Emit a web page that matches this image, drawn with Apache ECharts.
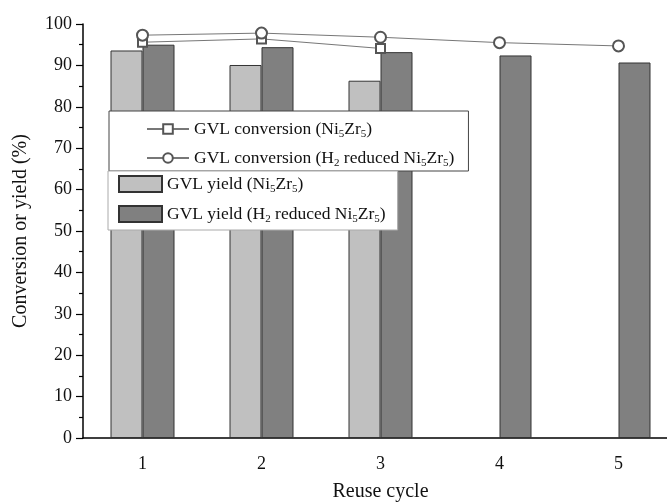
<!DOCTYPE html>
<html>
<head>
<meta charset="utf-8">
<script src="https://cdn.jsdelivr.net/npm/echarts@6/dist/echarts.min.js"></script>
<style>
    html, body { margin: 0; padding: 0; background: #fff; }
    #chart { width: 667px; height: 502px; }
</style>
</head>
<body>
<div id="chart"></div>
<script>
    var cycles = ['1', '2', '3', '4', '5'];
    var convNi = [95.6, 96.4, 94.1, '-', '-'];
    var convH2 = [97.3, 97.8, 96.8, 95.5, 94.7];
    var yieldNi = [93.6, 90.1, 86.3, '-', '-'];
    var yieldH2 = [95.0, 94.4, 93.2, 92.4, 90.7];

    var names = {
        convNi: 'GVL conversion (Ni5Zr5)',
        convH2: 'GVL conversion (H2 reduced Ni5Zr5)',
        yieldNi: 'GVL yield (Ni5Zr5)',
        yieldH2: 'GVL yield (H2 reduced Ni5Zr5)'
    };
    // legend text with subscripts
    var richNames = {};
    richNames[names.convNi] = '{n|GVL conversion (Ni}{s|5}{n|Zr}{s|5}{n|)}';
    richNames[names.convH2] = '{n|GVL conversion (H}{s|2}{n| reduced Ni}{s|5}{n|Zr}{s|5}{n|)}';
    richNames[names.yieldNi] = '{n|GVL yield (Ni}{s|5}{n|Zr}{s|5}{n|)}';
    richNames[names.yieldH2] = '{n|GVL yield (H}{s|2}{n| reduced Ni}{s|5}{n|Zr}{s|5}{n|)}';

    var serif = 'Liberation Serif';
    var legendText = {
        fontFamily: serif,
        rich: {
            n: { fontFamily: serif, fontSize: 17.5, lineHeight: 22, color: '#111' },
            s: { fontFamily: serif, fontSize: 11, lineHeight: 11, verticalAlign: 'bottom', color: '#111' }
        }
    };

    var option = {
        animation: false,
        backgroundColor: '#fff',
        textStyle: { fontFamily: serif },
        grid: { left: 83, width: 595, top: 24, bottom: 64, outerBoundsMode: 'none' },
        legend: [
            {
                orient: 'vertical',
                left: 109,
                top: 111,
                padding: [9, 14, 2, 37],
                itemWidth: 42,
                itemHeight: 12,
                itemGap: 9,
                backgroundColor: '#fff',
                borderColor: '#444',
                borderWidth: 1,
                data: [names.convNi, names.convH2],
                formatter: function (name) { return richNames[name]; },
                textStyle: legendText
            },
            {
                orient: 'vertical',
                left: 108,
                top: 171,
                padding: [4, 12, 5, 10],
                itemWidth: 43,
                itemHeight: 16,
                itemGap: 10,
                icon: 'rect',
                backgroundColor: '#fff',
                borderColor: '#aaa',
                borderWidth: 1,
                data: [names.yieldNi, names.yieldH2],
                formatter: function (name) { return richNames[name]; },
                textStyle: legendText
            }
        ],
        xAxis: {
            type: 'category',
            data: cycles,
            name: 'Reuse cycle',
            nameLocation: 'middle',
            nameGap: 44,
            nameTextStyle: { fontFamily: serif, fontSize: 20, color: '#111' },
            axisLine: { lineStyle: { color: '#000', width: 1.5 } },
            axisTick: { alignWithLabel: true, length: 6, lineStyle: { color: '#000', width: 1.2 } },
            axisLabel: { fontFamily: serif, fontSize: 18, color: '#111', margin: 17 }
        },
        yAxis: {
            type: 'value',
            min: 0,
            max: 100,
            interval: 10,
            name: 'Conversion or yield (%)',
            nameLocation: 'middle',
            nameGap: 52,
            nameTextStyle: { fontFamily: serif, fontSize: 20, color: '#111' },
            splitLine: { show: false },
            axisLine: { show: true, lineStyle: { color: '#000', width: 1.5 } },
            axisTick: { show: true, length: 7, lineStyle: { color: '#000', width: 1.2 } },
            minorTick: { show: true, splitNumber: 2, length: 4, lineStyle: { color: '#000', width: 1.2 } },
            axisLabel: { fontFamily: serif, fontSize: 18, color: '#111', margin: 11 }
        },
        series: [
            {
                name: names.yieldNi,
                type: 'bar',
                data: yieldNi,
                barWidth: 32,
                barGap: '0%',
                itemStyle: { color: '#c0c0c0', borderColor: '#333', borderWidth: 1 }
            },
            {
                name: names.yieldH2,
                type: 'bar',
                data: yieldH2,
                barWidth: 32,
                barGap: '0%',
                itemStyle: { color: '#808080', borderColor: '#333', borderWidth: 1 }
            },
            {
                name: names.convNi,
                type: 'line',
                data: convNi,
                symbol: 'emptyRect',
                symbolSize: 9,
                itemStyle: { color: '#555', borderWidth: 1 },
                lineStyle: { color: '#777', width: 1 }
            },
            {
                name: names.convH2,
                type: 'line',
                data: convH2,
                symbol: 'emptyCircle',
                symbolSize: 11,
                itemStyle: { color: '#555', borderWidth: 1 },
                lineStyle: { color: '#777', width: 1 }
            }
        ]
    };

    var chart = echarts.init(document.getElementById('chart'));
    chart.setOption(option);
</script>
</body>
</html>
